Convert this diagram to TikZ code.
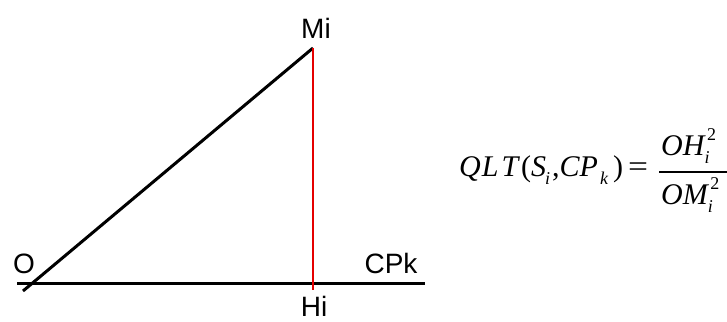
\documentclass[tikz,border=0pt]{standalone}
\usepackage{fontspec}
\setmainfont{Liberation Serif}
\setsansfont{Liberation Sans}
\newcommand\scr{\fontsize{18}{18}\selectfont}
\newcommand\mysub[1]{\raisebox{-8pt}{\scr\itshape #1}}
\newcommand\mysubsup[2]{\rlap{\kern2.5pt\raisebox{15pt}{\scr\upshape #2}}\raisebox{-8pt}{\scr\itshape #1}}
\begin{document}
\begin{tikzpicture}[x=1pt,y=-1pt,
  lbl/.style={font=\sffamily\fontsize{28}{28}\selectfont,inner sep=0pt},
  eq/.style={font=\fontsize{30}{30}\selectfont\itshape,inner sep=0pt},
  blk/.style={line width=3pt,black},
  redl/.style={line width=2pt,red!90!black}]
\useasboundingbox (0,0) rectangle (727,321);
\coordinate (a) at (17,283);
\coordinate (b) at (425,283);
\coordinate (o) at (23,291);
\coordinate (m) at (313,48);
\coordinate (h) at (313,290);
\draw[blk] (a) -- (b);
\draw[blk] (o) -- (m);
\draw[redl] (m) -- (h);
\node[lbl,anchor=base] (Mi) at (316,38) {Mi};
\node[lbl,anchor=base] (O) at (24,273) {O};
\node[lbl,anchor=base] (CPk) at (391,273) {CPk};
\node[lbl,anchor=base] (Hi) at (314,316) {Hi};
\node[eq,anchor=base west] (lhs) at (459,176)
  {Q\kern1pt L\kern3pt T\kern3pt\textup{(}S\kern-1pt\mysub{i}\kern2pt\textup{,}C\kern0pt P\kern2pt\mysub{k}\kern5pt\textup{)}\kern5pt\textup{\scalebox{1.18}[1]{=}}};
\coordinate (bl) at (659,171.5);
\coordinate (br) at (727,171.5);
\draw[line width=2pt] (bl) -- (br);
\node[eq,anchor=base west] (num) at (661,155) {OH\mysubsup{i}{2}};
\node[eq,anchor=base west] (den) at (661,204) {OM\mysubsup{i}{2}};
\end{tikzpicture}
\end{document}
